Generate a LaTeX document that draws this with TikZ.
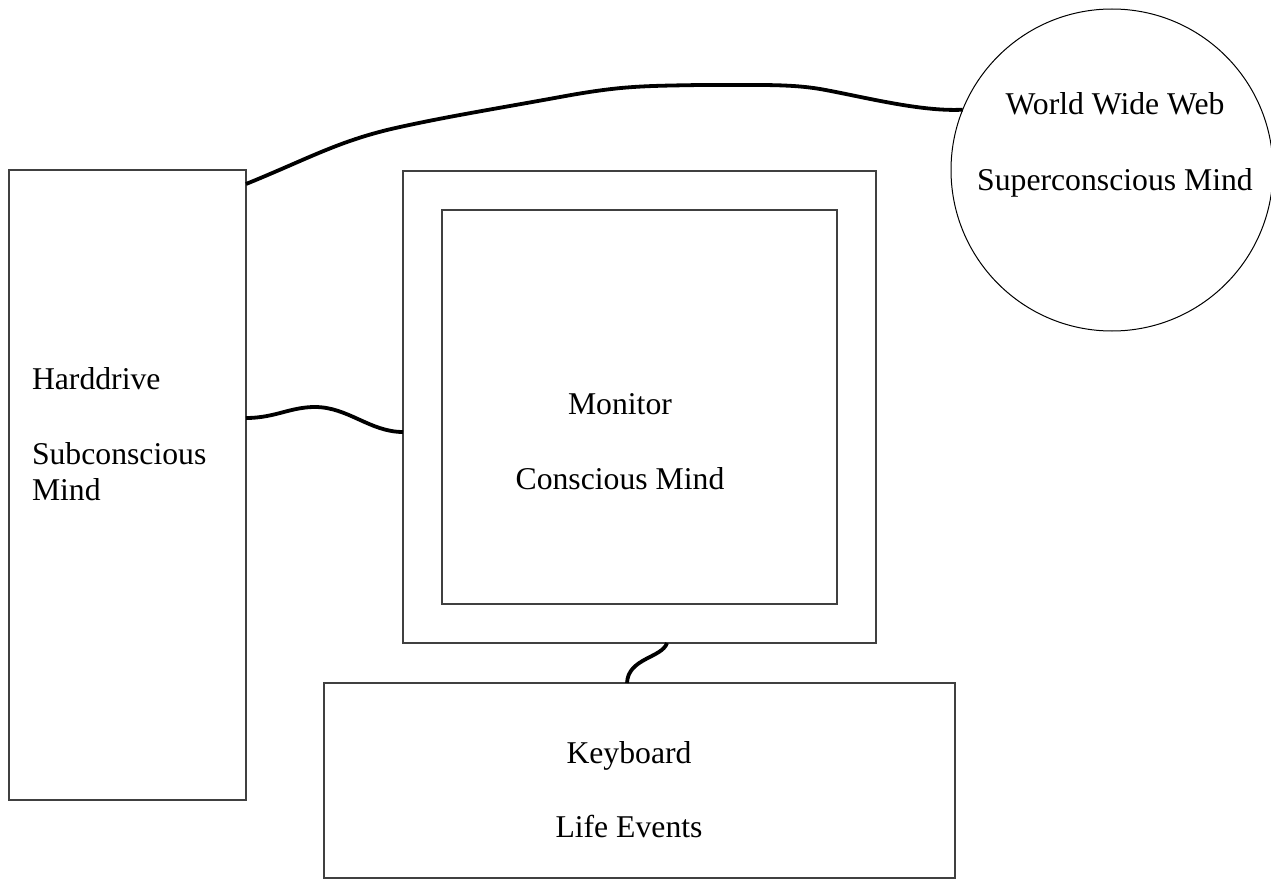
\documentclass[tikz,border=0pt]{standalone}
\usepackage{fontspec}
\setmainfont{Liberation Serif}
\usetikzlibrary{calc}
\begin{document}
\begin{tikzpicture}[x=1pt,y=-1pt,
  box/.style={draw=black!75, line width=1.3pt, rectangle, inner sep=0pt, outer sep=0pt},
  ball/.style={draw=black, line width=1pt, circle, inner sep=0pt, outer sep=0pt, minimum size=322pt},
  lbl/.style={inner sep=0pt, outer sep=0pt, font=\fontsize{31.7}{36}\selectfont},
  cable/.style={draw=black, line width=3.8pt}]
\useasboundingbox (0,0) rectangle (1271,880);
% shapes
\node[box, minimum width=237pt, minimum height=630pt] (hd) at (127.5,485) {};
\node[box, minimum width=473pt, minimum height=472pt] (mon) at (639.5,407) {};
\node[box, minimum width=395pt, minimum height=394pt] (scr) at (639.5,407) {};
\node[box, minimum width=631pt, minimum height=195pt] (kb) at (639.5,780.5) {};
\node[ball] (www) at (1112,170) {};
% texts
\node[lbl, anchor=base west] (t1) at (32,389) {Harddrive};
\node[lbl, anchor=base west] (t2) at (32,464) {Subconscious};
\node[lbl, anchor=base west] (t3) at (32,500) {Mind};
\node[lbl, anchor=base] (t4) at (620,414) {Monitor};
\node[lbl, anchor=base] (t5) at (620,489) {Conscious Mind};
\node[lbl, anchor=base] (t6) at (629,763) {Keyboard};
\node[lbl, anchor=base] (t7) at (629,837) {Life Events};
\node[lbl, anchor=base] (t8) at (1115,115) {World Wide Web};
\node[lbl, anchor=base] (t9) at (1115,190) {Superconscious Mind};
% connector end points
\coordinate (a1) at ($(hd.north east)+(0,14)$);
\coordinate (a2) at (www.158);
\coordinate (b1) at ($(hd.east)+(0,-67)$);
\coordinate (b2) at ($(mon.west)+(0,25)$);
\coordinate (c1) at ($(mon.south)+(27.5,0)$);
\coordinate (c2) at ($(kb.north)+(-12.5,0)$);
% connectors
\draw[cable] (a1) .. controls (310,158) and (340,140) .. (400,127)
  .. controls (450,116) and (500,108) .. (560,97)
  .. controls (620,86) and (640,86) .. (700,85)
  .. controls (760,85) and (790,84) .. (820,89)
  .. controls (860,96) and (920,112) .. (a2);
\draw[cable] (b1) .. controls (275,418) and (290,407) .. (315,407)
  .. controls (348,407) and (370,432) .. (b2);
\draw[cable] (c1) .. controls (662,658) and (628,658) .. (c2);
\end{tikzpicture}
\end{document}
